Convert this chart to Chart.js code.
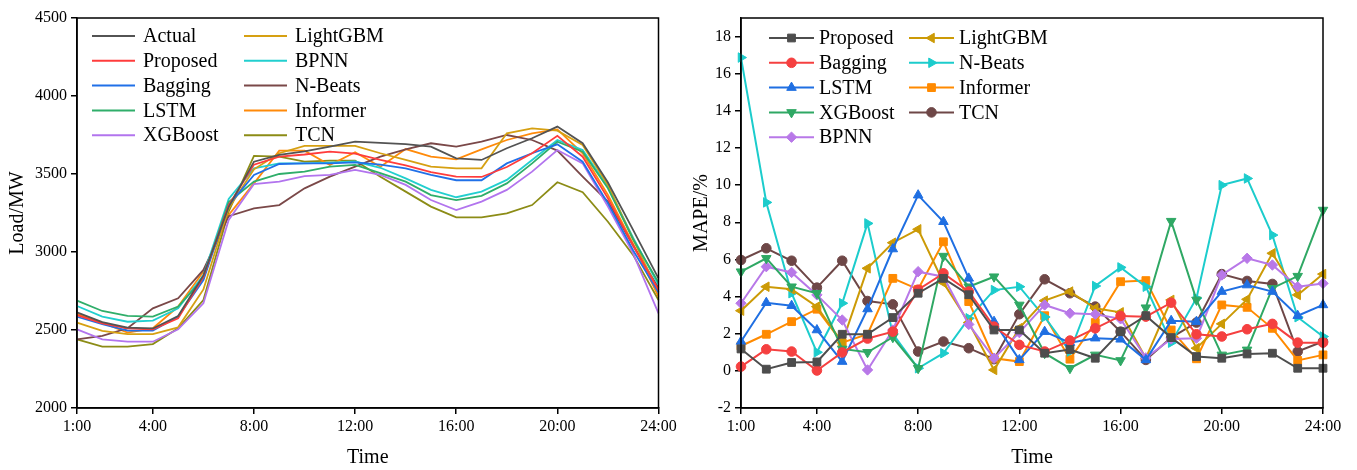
<!DOCTYPE html>
<html><head><meta charset="utf-8">
<script src="https://cdn.jsdelivr.net/npm/chart.js@4.4.1/dist/chart.umd.min.js"></script>
<style>
html,body{margin:0;padding:0;background:#fff;width:1357px;height:470px;overflow:hidden}
canvas{position:absolute;top:0}
#c1{left:0}
#c2{left:680px}
</style></head><body>
<canvas id="c1" width="680" height="470"></canvas>
<canvas id="c2" width="677" height="470"></canvas>
<script>
// ---------- data ----------
const hours = [1,2,3,4,5,6,7,8,9,10,11,12,13,14,15,16,17,18,19,20,21,22,23,24];
const timeTicks = [1,4,8,12,16,20,24];
const timeLabels = ['1:00','4:00','8:00','12:00','16:00','20:00','24:00'];
const loadTicks = [2000,2500,3000,3500,4000,4500];
const mapeTicks = [-2,0,2,4,6,8,10,12,14,16,18];

// Load (MW)
const loadActual   = [2613,2550,2515,2510,2590,2850,3290,3579,3622,3645,3675,3707,3700,3692,3675,3600,3590,3665,3729,3804,3697,3445,3140,2831];
const loadProposed = [2596,2543,2511,2504,2575,2840,3300,3560,3611,3625,3643,3630,3590,3555,3512,3483,3481,3545,3633,3745,3611,3344,3040,2756];
const loadBagging  = [2585,2538,2496,2496,2586,2820,3300,3494,3564,3568,3568,3575,3560,3536,3494,3460,3460,3568,3633,3690,3579,3312,3010,2740];
const loadLSTM     = [2688,2622,2590,2586,2650,2830,3320,3451,3500,3515,3547,3558,3505,3451,3365,3333,3360,3440,3568,3707,3643,3408,3080,2805];
const loadXGBoost  = [2504,2440,2425,2425,2504,2671,3205,3436,3451,3487,3494,3526,3494,3430,3333,3269,3323,3398,3515,3654,3568,3291,2990,2607];
const loadLightGBM = [2547,2494,2474,2474,2517,2760,3280,3530,3633,3680,3680,3680,3633,3590,3547,3536,3536,3761,3793,3778,3686,3430,3080,2745];
const loadBPNN     = [2654,2586,2553,2560,2639,2850,3340,3536,3568,3568,3573,3580,3540,3472,3398,3351,3387,3462,3590,3718,3654,3419,3090,2790];
const loadNBeats   = [2440,2462,2511,2639,2703,2885,3230,3280,3301,3408,3483,3547,3611,3658,3697,3675,3707,3750,3718,3650,3483,3323,3040,2770];
const loadInformer = [2603,2547,2483,2511,2650,2874,3237,3440,3650,3650,3558,3639,3547,3660,3611,3594,3658,3718,3761,3786,3633,3365,3050,2714];
const loadTCN      = [2440,2393,2393,2410,2511,2692,3260,3616,3611,3579,3586,3586,3483,3387,3291,3222,3222,3248,3301,3447,3383,3194,2980,2692];

// MAPE (%)
const mapeProposed = [1.18,0.09,0.45,0.48,1.97,1.97,2.87,4.18,4.98,4.10,2.20,2.20,0.95,1.15,0.68,2.11,2.97,1.79,0.77,0.68,0.91,0.95,0.14,0.14];
const mapeBagging  = [0.23,1.16,1.04,0.02,0.99,1.74,2.11,4.37,5.25,4.27,2.38,1.40,1.04,1.63,2.29,2.96,2.92,3.67,1.97,1.85,2.24,2.53,1.52,1.52];
const mapeLSTM     = [1.58,3.67,3.51,2.20,0.50,3.33,6.56,9.46,8.03,4.98,2.65,0.59,2.11,1.52,1.76,1.70,0.59,2.70,2.65,4.27,4.62,4.27,2.97,3.55];
const mapeXGBoost  = [5.34,6.06,4.53,4.18,1.18,1.00,1.81,0.14,6.18,4.53,5.07,3.55,0.95,0.14,0.86,0.56,3.40,8.06,3.82,0.86,1.13,4.45,5.10,8.66];
const mapeBPNN     = [3.64,5.61,5.30,4.09,2.74,0.05,2.20,5.34,5.07,2.50,0.68,2.06,3.55,3.10,3.05,2.80,0.70,1.72,1.76,5.16,6.06,5.70,4.53,4.71];
const mapeLightGBM = [3.24,4.53,4.39,3.46,1.52,5.52,6.90,7.62,4.75,2.60,0.05,2.30,3.78,4.27,3.37,3.15,0.68,3.82,1.22,2.53,3.85,6.33,4.09,5.21];
const mapeNBeats   = [16.87,9.07,4.18,1.00,3.64,7.94,1.99,0.14,0.95,2.83,4.35,4.53,2.90,1.04,4.57,5.57,4.53,1.52,3.91,10.00,10.36,7.31,2.89,1.85];
const mapeInformer = [1.34,1.97,2.65,3.32,1.52,1.97,4.98,4.39,6.95,3.73,0.68,0.50,2.97,0.63,2.60,4.80,4.86,2.20,0.65,3.55,3.42,2.29,0.56,0.86];
const mapeTCN      = [5.97,6.60,5.93,4.48,5.93,3.76,3.58,1.04,1.58,1.22,0.63,3.05,4.93,4.18,3.46,2.11,0.59,1.79,2.60,5.21,4.84,4.68,1.04,1.58];

// ---------- styling ----------
const FONT = '"Liberation Serif", "Times New Roman", serif';
const TICK = 16;
const pts = arr => hours.map((h, i) => ({x: h, y: arr[i]}));

const loadSeries = [
  ['Actual',   loadActual,   '#535353'],
  ['Proposed', loadProposed, '#ff3c3c'],
  ['Bagging',  loadBagging,  '#2070e8'],
  ['LSTM',     loadLSTM,     '#2fae6a'],
  ['XGBoost',  loadXGBoost,  '#b274ee'],
  ['LightGBM', loadLightGBM, '#d6a012'],
  ['BPNN',     loadBPNN,     '#22cfcf'],
  ['N-Beats',  loadNBeats,   '#7a4848'],
  ['Informer', loadInformer, '#ff8a0a'],
  ['TCN',      loadTCN,      '#8c8c16']
];
const mapeSeries = [
  ['Proposed', mapeProposed, '#4d4d4d', 'rect', 0, 5.5],
  ['Bagging',  mapeBagging,  '#f54040', 'circle', 0, 4.8],
  ['LSTM',     mapeLSTM,     '#1f6fe2', 'triangle', 0, 5.5],
  ['XGBoost',  mapeXGBoost,  '#2fa864', 'triangle', 180, 5.5],
  ['BPNN',     mapeBPNN,     '#b878e8', 'rectRot', 0, 5.2],
  ['LightGBM', mapeLightGBM, '#cc9a06', 'triangle', 270, 5.5],
  ['N-Beats',  mapeNBeats,   '#1ccccc', 'triangle', 90, 5.5],
  ['Informer', mapeInformer, '#ff8a00', 'rect', 0, 5.5],
  ['TCN',      mapeTCN,      '#6e4747', 'circle', 0, 4.8]
];

function drawMarker(ctx, ds, x, y) {
  ctx.fillStyle = ds.pointBackgroundColor;
  ctx.strokeStyle = ds.pointBorderColor;
  ctx.lineWidth = 1;
  if (Chart.helpers && Chart.helpers.drawPoint) {
    Chart.helpers.drawPoint(ctx, {pointStyle: ds.pointStyle, radius: ds.pointRadius, rotation: ds.pointRotation || 0, borderWidth: 1}, x, y);
  }
}

const colLegend = {
  id: 'colLegend',
  afterDraw(chart, args, o) {
    const ctx = chart.ctx;
    ctx.save();
    chart.data.datasets.forEach((ds, i) => {
      const col = Math.floor(i / 5), row = i % 5;
      const x0 = o.colX[col], y = o.y0 + row * o.dy;
      ctx.strokeStyle = ds.borderColor;
      ctx.lineWidth = 2;
      ctx.beginPath(); ctx.moveTo(x0, y); ctx.lineTo(x0 + o.len, y); ctx.stroke();
      if (o.markers) drawMarker(ctx, ds, x0 + o.len / 2, y);
      ctx.fillStyle = '#000';
      ctx.font = '20px ' + FONT;
      ctx.textBaseline = 'middle';
      ctx.textAlign = 'left';
      ctx.fillText(ds.label, x0 + o.len + o.gap, y + 1);
    });
    ctx.restore();
  }
};

const frame = {
  id: 'frame',
  afterDraw(chart) {
    const a = chart.chartArea, ctx = chart.ctx;
    ctx.save();
    ctx.strokeStyle = '#000';
    ctx.lineWidth = 1.5;
    ctx.strokeRect(a.left, a.top, a.right - a.left, a.bottom - a.top);
    ctx.restore();
  }
};

function xScale() {
  return {
    type: 'linear', min: 1, max: 24,
    afterBuildTicks: a => { a.ticks = timeTicks.map(v => ({value: v})); },
    afterFit: a => { a.height = 62; },
    grid: {drawOnChartArea: false, drawTicks: true, tickLength: 6, color: '#000', lineWidth: 1.5},
    border: {color: '#000', width: 1.5},
    ticks: {color: '#000', font: {family: FONT, size: TICK}, padding: 3, maxRotation: 0, autoSkip: false,
            callback: v => timeLabels[timeTicks.indexOf(v)]},
    title: {display: true, text: 'Time', color: '#000', font: {family: FONT, size: 20}, padding: {top: 0, bottom: 0}}
  };
}

// ---------- left chart ----------
new Chart(document.getElementById('c1'), {
  type: 'line',
  data: {
    datasets: loadSeries.map(([label, arr, color]) => ({
      label, data: pts(arr), borderColor: color, backgroundColor: color,
      borderWidth: 1.8, pointRadius: 0, tension: 0, clip: false
    }))
  },
  options: {
    responsive: false, animation: false, devicePixelRatio: 1,
    layout: {padding: {top: 18, right: 21.5, left: 0, bottom: 0}},
    plugins: {
      legend: {display: false}, tooltip: {enabled: false},
      colLegend: {colX: [92, 244], y0: 36, dy: 24.8, len: 43, gap: 8, markers: false}
    },
    scales: {
      x: xScale(),
      y: {
        min: 2000, max: 4500,
        afterBuildTicks: a => { a.ticks = loadTicks.map(v => ({value: v})); },
        ticks: {color: '#000', font: {family: FONT, size: TICK}, padding: 4, callback: v => String(v)},
        afterFit: a => { a.width = 77; },
        grid: {drawOnChartArea: false, drawTicks: true, tickLength: 6, color: '#000', lineWidth: 1.5},
        border: {color: '#000', width: 1.5},
        title: {display: true, text: 'Load/MW', color: '#000', font: {family: FONT, size: 20}, padding: {top: 6, bottom: 0}}
      }
    }
  },
  plugins: [colLegend, frame]
});

// ---------- right chart ----------
new Chart(document.getElementById('c2'), {
  type: 'line',
  data: {
    datasets: mapeSeries.map(([label, arr, color, style, rot, r]) => ({
      label, data: pts(arr), borderColor: color, backgroundColor: color,
      pointBackgroundColor: color, pointBorderColor: color, pointBorderWidth: 1,
      pointStyle: style, pointRotation: rot, pointRadius: r,
      borderWidth: 2, tension: 0, clip: false
    }))
  },
  options: {
    responsive: false, animation: false, devicePixelRatio: 1,
    layout: {padding: {top: 18, right: 34, left: 0, bottom: 0}},
    plugins: {
      legend: {display: false}, tooltip: {enabled: false},
      colLegend: {colX: [89, 229], y0: 38, dy: 24.8, len: 45, gap: 5, markers: true}
    },
    scales: {
      x: xScale(),
      y: {
        min: -2, max: 19,
        afterBuildTicks: a => { a.ticks = mapeTicks.map(v => ({value: v})); },
        ticks: {color: '#000', font: {family: FONT, size: TICK}, padding: 4, callback: v => String(v)},
        afterFit: a => { a.width = 61; },
        grid: {drawOnChartArea: false, drawTicks: true, tickLength: 6, color: '#000', lineWidth: 1.5},
        border: {color: '#000', width: 1.5},
        title: {display: true, text: 'MAPE/%', color: '#000', font: {family: FONT, size: 20}, padding: {top: 10, bottom: 0}}
      }
    }
  },
  plugins: [colLegend, frame]
});
</script>
</body></html>
